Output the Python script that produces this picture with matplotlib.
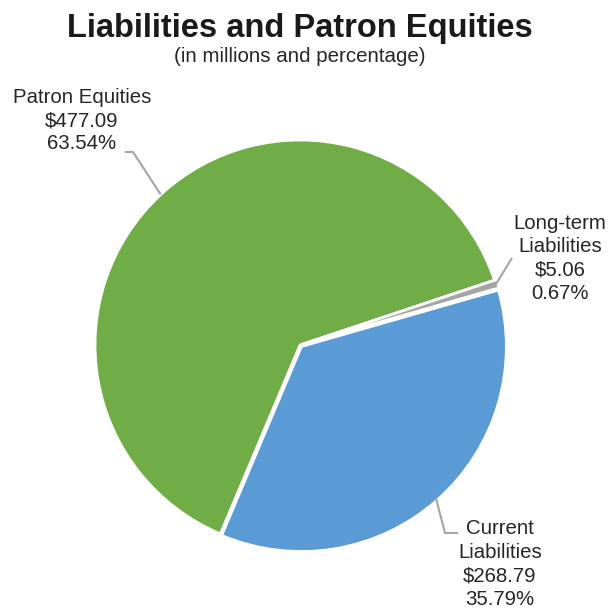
import matplotlib
matplotlib.use("Agg")
import matplotlib.pyplot as plt
import numpy as np

plt.rcParams['font.family'] = ['Liberation Sans', 'DejaVu Sans']

categories = ["Current\nLiabilities", "Patron Equities", "Long-term\nLiabilities"]
values = [268.79, 477.09, 5.06]
percents = ["35.79%", "63.54%", "0.67%"]
colors = ["#5B9BD5", "#70AD47", "#A5A5A5"]

W, H = 615, 612
fig = plt.figure(figsize=(W / 100, H / 100), dpi=100)
cx, cy, R = 300, 345, 205
ax = fig.add_axes([(cx - R) / W, (H - cy - R) / H, 2 * R / W, 2 * R / H])

wedges, _ = ax.pie(values, colors=colors, startangle=16, counterclock=False,
                   explode=[0.01, 0, 0.01],
                   wedgeprops=dict(edgecolor="white", linewidth=2))
ax.set_xlim(-1, 1)
ax.set_ylim(-1, 1)
ax.set_aspect('equal')
ax.axis('off')

def px(p):
    return ((p[0] - cx) / R, (cy - p[1]) / R)

# label positions (pixel coords of text block centers) and leader elbows
label_pos = [(500, 564), (82, 120.5), (560, 258.5)]
elbows = [[(445, 533), (458, 533)], [(133, 152), (125, 152)], [(512, 258)]]

for w, cat, val, pct, lp, el in zip(wedges, categories, values, percents, label_pos, elbows):
    ang = np.deg2rad((w.theta1 + w.theta2) / 2)
    r0 = 1.0
    pts = [(r0 * np.cos(ang), r0 * np.sin(ang))] + [px(e) for e in el]
    xs, ys = zip(*pts)
    ax.plot(xs, ys, color="#A6A6A6", lw=1.5, clip_on=False, solid_capstyle='butt')
    tx, ty = px(lp)
    ax.text(tx, ty, f"{cat}\n${val:.2f}\n{pct}", ha='center', va='center',
            fontsize=14.7, color="#262626", linespacing=1.29, clip_on=False)

fig.text(300 / W, 1 - 37 / H, "Liabilities and Patron Equities", ha='center', va='baseline',
         fontsize=23.5, fontweight='bold', color="#1a1a1a")
fig.text(300 / W, 1 - 62 / H, "(in millions and percentage)", ha='center', va='baseline',
         fontsize=14.8, color="#262626")

fig.savefig("out.png", dpi=100)
